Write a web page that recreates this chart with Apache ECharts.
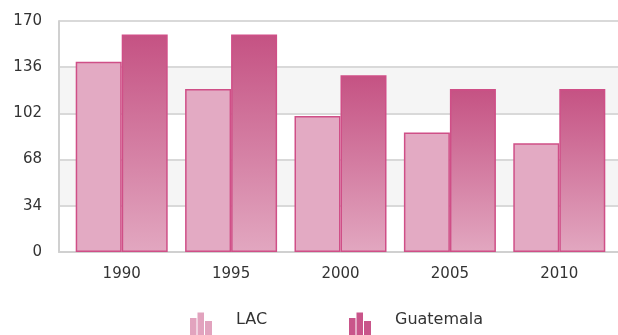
<!DOCTYPE html>
<html>
<head>
<meta charset="utf-8">
<script src="https://cdn.jsdelivr.net/npm/echarts@6/dist/echarts.min.js"></script>
<style>
  html, body { margin: 0; padding: 0; background: #fff; }
  #chart { width: 618px; height: 335px; }
</style>
</head>
<body>
<div id="chart"></div>
<script>
// Years shown along the bottom axis
const years = ['1990', '1995', '2000', '2005', '2010'];
// Series values
const lacValues = [140, 120, 100, 88, 80];
const guatemalaValues = [160, 160, 130, 120, 120];
// Value axis settings
const yMin = 0;
const yMax = 170;
const yStep = 34;

const FONT = 'DejaVu Sans';
const TEXT = '#333333';

// Little bar-chart glyph used as the legend marker (a dot at the top pads the box)
const barIcon = 'path://M0,0L0.01,0L0.01,0.01Z M0,14H6.5V32H0Z M7.5,8.5H14V32H7.5Z M15,17H22V32H15Z';

const lacColor = '#e3aac3';
const guatColor = {
  type: 'linear', x: 0, y: 0, x2: 0, y2: 1,
  colorStops: [
    { offset: 0, color: '#c55283' },
    { offset: 1, color: '#e2a7c0' }
  ]
};
const edgeColor = '#cf4f87';

const chart = echarts.init(document.getElementById('chart'), null, { renderer: 'canvas' });

const legendBase = {
  top: 304, padding: 0, itemWidth: 22, itemHeight: 32, selectedMode: false,
  textStyle: { color: TEXT, fontFamily: FONT, fontSize: 16, padding: [0, 0, 0, 19] }
};

chart.setOption({
  backgroundColor: '#ffffff',
  animation: false,
  grid: [
    // full-width frame: value axis, bands and rules
    { left: 59, right: 0, top: 21, bottom: 83 },
    // inner area holding the bars
    { left: 67, right: 4, top: 21, bottom: 83 }
  ],
  xAxis: [
    {
      gridIndex: 0, type: 'value', min: 0, max: 1,
      axisLine: { show: true, lineStyle: { color: '#d0d0d0', width: 2 } },
      axisTick: { show: false }, axisLabel: { show: false }, splitLine: { show: false }
    },
    {
      gridIndex: 1, type: 'category', data: years,
      axisLine: { show: false }, axisTick: { show: false },
      axisLabel: { color: TEXT, fontFamily: FONT, fontSize: 15, margin: 15 }
    }
  ],
  yAxis: [
    {
      gridIndex: 0, type: 'value', min: yMin, max: yMax, interval: yStep,
      axisLine: { show: true, lineStyle: { color: '#d0d0d0', width: 2 } },
      axisTick: { show: false },
      axisLabel: { color: TEXT, fontFamily: FONT, fontSize: 15, margin: 17 },
      splitLine: { show: true, lineStyle: { color: '#d9d9d9', width: 2 } },
      splitArea: { show: true, areaStyle: { color: ['#ffffff', '#f5f5f5'] } }
    },
    {
      gridIndex: 1, type: 'value', min: yMin, max: yMax, interval: yStep,
      show: false, splitLine: { show: false }
    }
  ],
  legend: [
    Object.assign({}, legendBase, {
      left: 190,
      data: [{ name: 'LAC', icon: barIcon, itemStyle: { color: '#e2a3be', borderWidth: 0 } }]
    }),
    Object.assign({}, legendBase, {
      left: 349,
      data: [{ name: 'Guatemala', icon: barIcon, itemStyle: { color: '#c9558a', borderWidth: 0 } }]
    })
  ],
  series: [
    {
      name: 'LAC', type: 'bar', xAxisIndex: 1, yAxisIndex: 1,
      data: lacValues, barWidth: 46, barGap: '0%',
      itemStyle: { color: lacColor, borderColor: edgeColor, borderWidth: 1.5 }
    },
    {
      name: 'Guatemala', type: 'bar', xAxisIndex: 1, yAxisIndex: 1,
      data: guatemalaValues, barWidth: 46, barGap: '0%',
      itemStyle: { color: guatColor, borderColor: edgeColor, borderWidth: 1.5 }
    }
  ]
});
</script>
</body>
</html>
